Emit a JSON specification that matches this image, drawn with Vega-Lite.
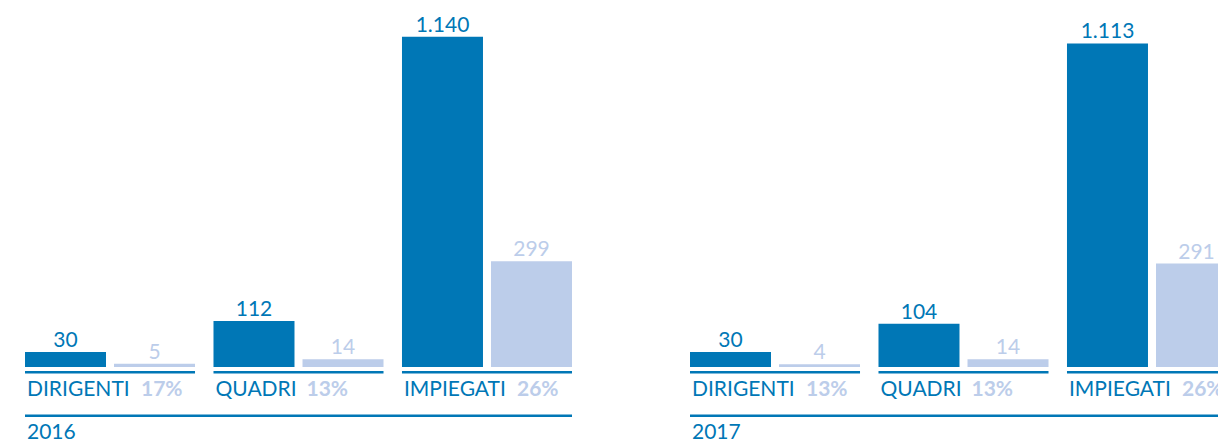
{
  "$schema": "https://vega.github.io/schema/vega-lite/v6.json",
  "padding": {"left": 23, "top": 0, "right": 0, "bottom": 0},
  "config": {
    "view": {"stroke": null},
    "locale": {"number": {"decimal": ",", "thousands": ".", "grouping": [3], "currency": ["€", ""]}},
    "text": {"font": "Lato", "fontSize": 21}
  },
  "data": {
    "values": [
      {"year": "2016", "group": "DIRIGENTI", "type": "totale", "value": 30, "pct": 0.17},
      {"year": "2016", "group": "DIRIGENTI", "type": "donne", "value": 5, "pct": 0.17},
      {"year": "2016", "group": "QUADRI", "type": "totale", "value": 112, "pct": 0.13},
      {"year": "2016", "group": "QUADRI", "type": "donne", "value": 14, "pct": 0.13},
      {"year": "2016", "group": "IMPIEGATI", "type": "totale", "value": 1140, "pct": 0.26},
      {"year": "2016", "group": "IMPIEGATI", "type": "donne", "value": 299, "pct": 0.26},
      {"year": "2017", "group": "DIRIGENTI", "type": "totale", "value": 30, "pct": 0.13},
      {"year": "2017", "group": "DIRIGENTI", "type": "donne", "value": 4, "pct": 0.13},
      {"year": "2017", "group": "QUADRI", "type": "totale", "value": 104, "pct": 0.13},
      {"year": "2017", "group": "QUADRI", "type": "donne", "value": 14, "pct": 0.13},
      {"year": "2017", "group": "IMPIEGATI", "type": "totale", "value": 1113, "pct": 0.26},
      {"year": "2017", "group": "IMPIEGATI", "type": "donne", "value": 291, "pct": 0.26}
    ]
  },
  "facet": {"column": {"field": "year", "type": "nominal", "header": null}},
  "spacing": {"column": 114},
  "resolve": {"scale": {"x": "shared", "y": "shared"}},
  "spec": {
    "width": 547,
    "height": 441,
    "layer": [
      {
        "mark": {"type": "bar"},
        "encoding": {
          "x": {"field": "group", "type": "nominal", "sort": ["DIRIGENTI", "QUADRI", "IMPIEGATI"], "axis": null,
                "scale": {"paddingInner": 0.098, "paddingOuter": 0}},
          "xOffset": {"field": "type", "type": "nominal", "sort": ["totale", "donne"], "scale": {"paddingInner": 0.09, "paddingOuter": 0}},
          "y": {"field": "value", "type": "quantitative", "stack": null, "axis": null,
                "scale": {"type": "pow", "exponent": 0.85, "domain": [-196.2, 1291], "nice": false, "zero": false}},
          "y2": {"datum": 0},
          "color": {"field": "type", "type": "nominal", "legend": null,
                    "scale": {"domain": ["totale", "donne"], "range": ["#0077b6", "#bccdea"]}}
        }
      },
      {
        "mark": {"type": "text", "align": "center", "baseline": "alphabetic", "dy": -5},
        "encoding": {
          "x": {"field": "group", "type": "nominal", "sort": ["DIRIGENTI", "QUADRI", "IMPIEGATI"], "axis": null},
          "xOffset": {"field": "type", "type": "nominal", "sort": ["totale", "donne"]},
          "y": {"field": "value", "type": "quantitative"},
          "text": {"field": "value", "type": "quantitative", "format": ",d"},
          "color": {"field": "type", "type": "nominal", "legend": null}
        }
      },
      {
        "transform": [{"filter": "datum.type === 'totale'"}],
        "mark": {"type": "rule", "color": "#0077b6", "strokeWidth": 2.4},
        "encoding": {
          "x": {"field": "group", "type": "nominal", "sort": ["DIRIGENTI", "QUADRI", "IMPIEGATI"], "bandPosition": 0, "axis": null},
          "x2": {"field": "group", "bandPosition": 1},
          "y": {"datum": -8.8}
        }
      },
      {
        "transform": [{"filter": "datum.type === 'totale'"}],
        "mark": {"type": "text", "align": "left", "baseline": "alphabetic", "dx": 2, "color": "#0077b6"},
        "encoding": {
          "x": {"field": "group", "type": "nominal", "sort": ["DIRIGENTI", "QUADRI", "IMPIEGATI"], "bandPosition": 0, "axis": null},
          "y": {"datum": -65},
          "text": {"field": "group", "type": "nominal"}
        }
      },
      {
        "transform": [{"filter": "datum.type === 'totale' && datum.group === 'DIRIGENTI'"}],
        "mark": {"type": "text", "align": "left", "baseline": "alphabetic", "dx": 116, "color": "#bccdea", "fontWeight": "bold"},
        "encoding": {
          "x": {"field": "group", "type": "nominal", "sort": ["DIRIGENTI", "QUADRI", "IMPIEGATI"], "bandPosition": 0, "axis": null},
          "y": {"datum": -65},
          "text": {"field": "pct", "type": "quantitative", "format": ".0%"}
        }
      },
      {
        "transform": [{"filter": "datum.type === 'totale' && datum.group === 'QUADRI'"}],
        "mark": {"type": "text", "align": "left", "baseline": "alphabetic", "dx": 93, "color": "#bccdea", "fontWeight": "bold"},
        "encoding": {
          "x": {"field": "group", "type": "nominal", "sort": ["DIRIGENTI", "QUADRI", "IMPIEGATI"], "bandPosition": 0, "axis": null},
          "y": {"datum": -65},
          "text": {"field": "pct", "type": "quantitative", "format": ".0%"}
        }
      },
      {
        "transform": [{"filter": "datum.type === 'totale' && datum.group === 'IMPIEGATI'"}],
        "mark": {"type": "text", "align": "left", "baseline": "alphabetic", "dx": 115, "color": "#bccdea", "fontWeight": "bold"},
        "encoding": {
          "x": {"field": "group", "type": "nominal", "sort": ["DIRIGENTI", "QUADRI", "IMPIEGATI"], "bandPosition": 0, "axis": null},
          "y": {"datum": -65},
          "text": {"field": "pct", "type": "quantitative", "format": ".0%"}
        }
      },
      {
        "transform": [{"filter": "datum.type === 'totale' && datum.group === 'DIRIGENTI'"}],
        "mark": {"type": "rule", "color": "#0077b6", "strokeWidth": 2.4},
        "encoding": {
          "y": {"datum": -120}
        }
      },
      {
        "transform": [{"filter": "datum.type === 'totale' && datum.group === 'DIRIGENTI'"}],
        "mark": {"type": "text", "align": "left", "baseline": "alphabetic", "dx": 2, "color": "#0077b6"},
        "encoding": {
          "x": {"field": "group", "type": "nominal", "sort": ["DIRIGENTI", "QUADRI", "IMPIEGATI"], "bandPosition": 0, "axis": null},
          "y": {"datum": -190},
          "text": {"field": "year", "type": "nominal"}
        }
      }
    ]
  }
}
